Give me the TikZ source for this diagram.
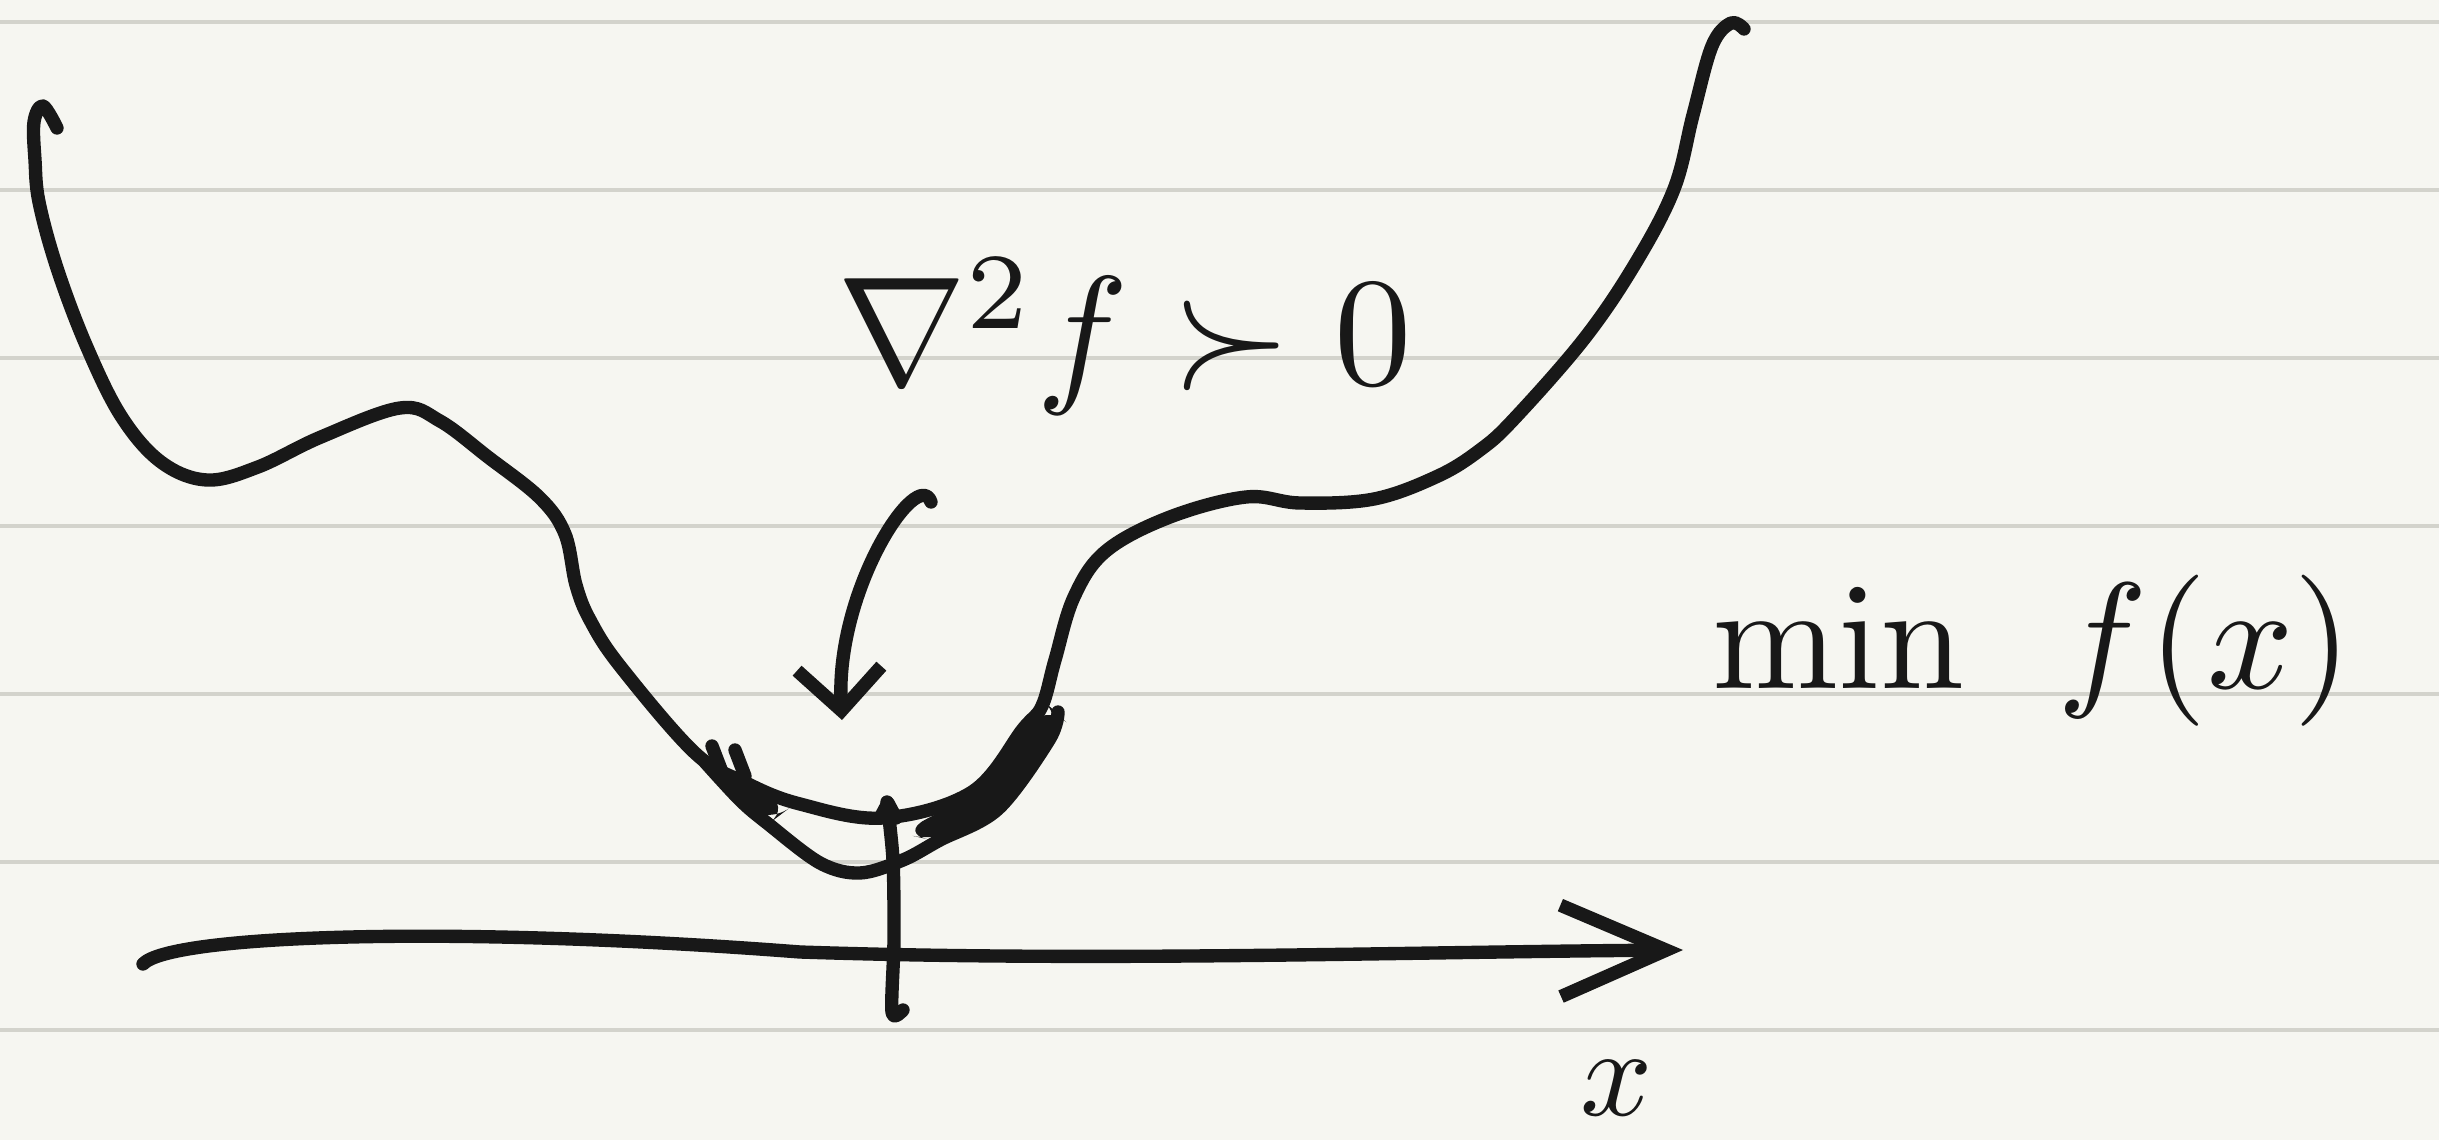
\documentclass[tikz,border=0pt]{standalone}
\usepackage{graphicx}
\usepackage{tikz}
\usetikzlibrary{arrows.meta}

\definecolor{paper}{HTML}{F6F6F1}
\definecolor{rulegray}{HTML}{D3D3CC}
\definecolor{inkc}{HTML}{181818}

\begin{document}
\begin{tikzpicture}[
    x=0.01cm, y=-0.01cm,
    ink/.style={draw=inkc, line width=3.8pt, line cap=round, line join=round},
    rule/.style={draw=rulegray, line width=1.3pt},
    hand/.style={text=inkc, inner sep=0pt},
    smallbarb/.style={-{Straight Barb[length=12pt, width=24pt]}},
    bigbarb/.style={-{Straight Barb[length=30pt, width=26pt]}}
  ]

  % paper and ruled lines
  \fill[paper] (0,0) rectangle (2439,1140);
  \useasboundingbox (0,0) rectangle (2439,1140);
  \foreach \y in {22,190,...,1030}
    \draw[rule] (0,\y) -- (2439,\y);

  % -- function curve --
  \draw[ink] plot[smooth, tension=0.6] coordinates {
    (57,128) (43,106) (34,122) (35,160) (39,202) (57,268) (86,345)
    (121,416) (161,462) (207,480) (258,467) (321,437) (400,408)
    (440,421) (488,457) (540,498) (565,534) (576,585) (590,620)
    (620,666) (695,753) (746,783) (800,804) (883,818) (972,792)
    (1023,729) (1042,706) (1055,660) (1074,597) (1106,551)
    (1170,517) (1246,497) (1300,503) (1374,499)
    (1438,476) (1480,450) (1514,419) (1584,339) (1635,264)
    (1674,189) (1693,115) (1712,46) (1731,23) (1744,29)};

  % second stroke round the minimum
  \draw[ink] plot[smooth, tension=0.55] coordinates {
    (705,762) (740,800) (767,823) (820,863) (860,873) (903,860)
    (940,840) (998,809) (1049,740) (1058,712)};
  \fill[inkc, rounded corners=8pt] (900,833) -- (972,795) -- (1023,731)
    -- (1046,703) -- (1064,720) -- (1050,752) -- (998,809) -- (940,842) -- cycle;
  \fill[inkc, rounded corners=8pt] (700,752) -- (746,783) -- (792,806)
    -- (767,825) -- (738,802) -- cycle;
  \draw[ink] (712,746) -- (722,772);
  \draw[ink] (735,750) -- (745,776);

  % tick at the minimiser
  \draw[ink] plot[smooth, tension=0.5] coordinates {
    (887,802) (893,860) (894,940) (892,1012) (903,1010)};
  \draw[ink] (880,818) -- (888,803) -- (896,818);

  % -- x axis --
  \coordinate (axisstart) at (143,964);
  \coordinate (axisend) at (1683,950);
  \draw[ink, bigbarb] (axisstart) .. controls (170,935) and (450,925) .. (800,952)
    .. controls (1100,962) and (1400,952) .. (axisend);
  \node[hand] (xlabel) at (1617,1088) {\scalebox{3.6}{$x$}};

  % -- labels --
  \node[hand, anchor=base west] (hess)
    at (837,385) {\scalebox{4.4}{$\nabla^2 f \succ 0$}};
  \node[hand, anchor=base west] (objective)
    at (1712,688) {\scalebox{4.3}{$\min\hspace{0.45em} f(x)$}};

  % arrow from the condition to the minimum
  \coordinate (arrowtop) at (931,502);
  \coordinate (minpt) at (842,720);
  \draw[ink, smallbarb] (arrowtop) .. controls (918,465) and (835,590) .. (minpt);

\end{tikzpicture}
\end{document}
